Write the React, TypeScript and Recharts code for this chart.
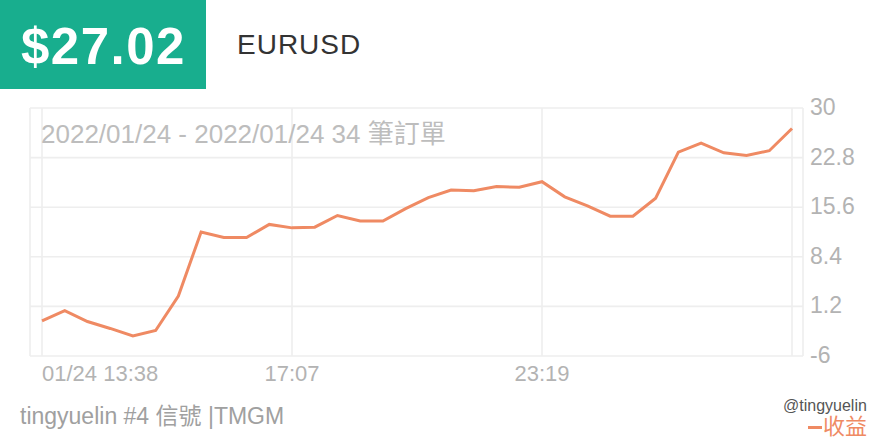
import React from "react";
import { LineChart, Line, XAxis, YAxis, CartesianGrid } from "recharts";

const values = [
  -0.9, 0.6, -1.0, -2.0, -3.1, -2.3, 2.7, 12.0, 11.2, 11.2, 13.1, 12.6, 12.7,
  14.4, 13.6, 13.6, 15.4, 17.0, 18.1, 18.0, 18.6, 18.5, 19.3, 17.1, 15.8, 14.3,
  14.3, 16.9, 23.6, 24.9, 23.5, 23.1, 23.8, 27.02,
];
const xTickIndices = [0, 11, 22, 33];
const xTickLabels = ["01/24 13:38", "17:07", "23:19", ""];
const yTicks = [-6, 1.2, 8.4, 15.6, 22.8, 30];

const data = values.map((v, i) => ({ i, v }));

const FONT = '"Liberation Sans", Arial, Helvetica, sans-serif';
const CJK = '"Liberation Sans", "Noto Sans CJK TC", sans-serif';

const XTick = (props: any) => {
  const { x, y, payload } = props;
  const idx = xTickIndices.indexOf(payload.value);
  const label = idx >= 0 ? xTickLabels[idx] : "";
  return (
    <text
      x={x}
      y={y}
      dy={25}
      textAnchor={idx === 0 ? "start" : "middle"}
      fill="#b3b3b3"
      fontSize={22}
      fontFamily={FONT}
    >
      {label}
    </text>
  );
};

const YTick = (props: any) => {
  const { x, y, payload } = props;
  return (
    <text
      x={x}
      y={y}
      dy={7}
      textAnchor="start"
      fill="#b3b3b3"
      fontSize={23}
      fontFamily={FONT}
    >
      {payload.value}
    </text>
  );
};

export default function App() {
  return (
    <div
      style={{
        position: "absolute",
        left: 0,
        top: 0,
        width: 880,
        height: 440,
        background: "#ffffff",
        overflow: "hidden",
        fontFamily: FONT,
      }}
    >
      <LineChart
        width={880}
        height={440}
        data={data}
        margin={{ top: 108, right: 0, left: 30, bottom: 0 }}
      >
        <CartesianGrid stroke="#eeeeee" strokeWidth={1.6} />
        <XAxis
          type="number"
          dataKey="i"
          domain={[0, 33]}
          ticks={xTickIndices}
          interval={0}
          padding={{ left: 12, right: 11 }}
          height={84}
          axisLine={false}
          tickLine={false}
          tickSize={0}
          tickMargin={0}
          tick={<XTick />}
        />
        <YAxis
          orientation="right"
          type="number"
          domain={[-6, 30]}
          ticks={yTicks}
          interval={0}
          width={77}
          axisLine={false}
          tickLine={false}
          tickSize={0}
          tickMargin={7}
          tick={<YTick />}
        />
        <Line
          type="linear"
          dataKey="v"
          stroke="#ef8a63"
          strokeWidth={3}
          dot={false}
          activeDot={false}
          isAnimationActive={false}
        />
      </LineChart>

      {/* header box */}
      <div
        style={{
          position: "absolute",
          left: 0,
          top: 0,
          width: 206,
          height: 89,
          background: "#18ae8e",
        }}
      />
      <div
        style={{
          position: "absolute",
          left: 21,
          top: 21,
          fontSize: 51,
          lineHeight: "51px",
          fontWeight: 700,
          color: "#ffffff",
          letterSpacing: 1.5,
          fontFamily: FONT,
          whiteSpace: "nowrap",
        }}
      >
        $27.02
      </div>
      <div
        style={{
          position: "absolute",
          left: 237,
          top: 31,
          fontSize: 28,
          lineHeight: "28px",
          color: "#333333",
          letterSpacing: 1,
          fontFamily: FONT,
          whiteSpace: "nowrap",
        }}
      >
        EURUSD
      </div>

      {/* chart title */}
      <div
        style={{
          position: "absolute",
          left: 41,
          top: 121,
          fontSize: 26,
          lineHeight: "26px",
          color: "#bdbdbd",
          fontFamily: CJK,
          whiteSpace: "nowrap",
        }}
      >
        2022/01/24 - 2022/01/24 34 筆訂單
      </div>

      {/* footer */}
      <div
        style={{
          position: "absolute",
          left: 20,
          top: 405,
          fontSize: 23,
          lineHeight: "23px",
          color: "#a0a0a0",
          fontFamily: CJK,
          whiteSpace: "nowrap",
        }}
      >
        tingyuelin #4 信號 |TMGM
      </div>

      {/* legend */}
      <div
        style={{
          position: "absolute",
          left: 808,
          top: 426,
          width: 14,
          height: 3,
          background: "#ef8a63",
        }}
      />
      <div
        style={{
          position: "absolute",
          left: 823,
          top: 416,
          fontSize: 22,
          lineHeight: "22px",
          color: "#ef8a63",
          fontFamily: CJK,
          whiteSpace: "nowrap",
        }}
      >
        收益
      </div>

      {/* watermark */}
      <div
        style={{
          position: "absolute",
          left: 783,
          top: 398,
          fontSize: 16,
          lineHeight: "16px",
          color: "#555555",
          fontFamily: FONT,
          whiteSpace: "nowrap",
        }}
      >
        @tingyuelin
      </div>
    </div>
  );
}
